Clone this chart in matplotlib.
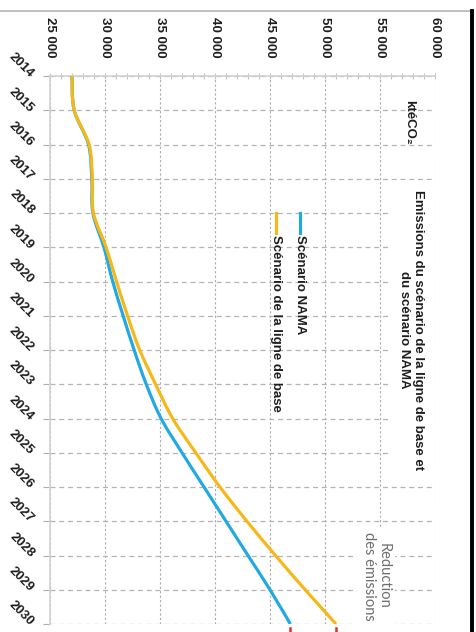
import matplotlib
matplotlib.use("Agg")
import matplotlib.pyplot as plt
from matplotlib.lines import Line2D
from matplotlib.patches import PathPatch
from matplotlib.path import Path
from matplotlib.ticker import MultipleLocator

# Emissions (ktCO2e) per year for the two scenarios
years = list(range(2014, 2031))
nama = [27000, 27200, 28500, 28800, 28900, 29900, 30700, 31650, 32650,
        33750, 35100, 37000, 39000, 41000, 43000, 45000, 46850]
baseline = [27000, 27200, 28550, 28850, 28950, 30100, 31050, 32050, 33150,
            34600, 36150, 38250, 40450, 42900, 45500, 48200, 51000]

value_ticks = [25000, 30000, 35000, 40000, 45000, 50000, 55000, 60000]
value_labels = ["25 000", "30 000", "35 000", "40 000", "45 000",
                "50 000", "55 000", "60 000"]
year_labels = [str(y) for y in years]

title = "Emissions du scénario de la ligne de base et\ndu scénario NAMA"
unit = "ktéCO₂"
series_names = ["Scénario NAMA", "Scénario de la ligne de base"]
note = "Reduction\ndes émissions"

BLUE = "#22a9e0"
YELLOW = "#f6b819"
TEXT = "#1e1e1e"
FONT = ["Liberation Sans", "DejaVu Sans"]

plt.rcParams["font.family"] = FONT

W, H = 477, 632
fig = plt.figure(figsize=(W / 100, H / 100), dpi=100)

# plot area in pixels: x 50..435, y 76..624 (from top)
L, R, T, B = 50, 435, 76, 624
ax = fig.add_axes([L / W, (H - B) / H, (R - L) / W, (B - T) / H])


def pos(px, py):
    """Pixel position inside the figure -> axes fraction."""
    return (px - L) / (R - L), (B - py) / (B - T)


def smooth_path(xs, ys):
    """Smoothed curve through every point (Catmull-Rom as cubic Beziers)."""
    pts = list(zip(xs, ys))
    n = len(pts)
    verts = [pts[0]]
    codes = [Path.MOVETO]
    for i in range(n - 1):
        p0 = pts[max(i - 1, 0)]
        p1 = pts[i]
        p2 = pts[i + 1]
        p3 = pts[min(i + 2, n - 1)]
        c1 = (p1[0] + (p2[0] - p0[0]) / 6, p1[1] + (p2[1] - p0[1]) / 6)
        c2 = (p2[0] - (p3[0] - p1[0]) / 6, p2[1] - (p3[1] - p1[1]) / 6)
        verts += [c1, c2, p2]
        codes += [Path.CURVE4] * 3
    return Path(verts, codes)


ax.set_xlim(value_ticks[0], value_ticks[-1])
ax.set_ylim(years[-1], years[0])

# value axis along the top, labels read downward
ax.xaxis.tick_top()
ax.set_xticks(value_ticks)
ax.set_xticklabels(value_labels, rotation=-90, fontsize=9.5,
                   fontweight="bold", color=TEXT)
ax.xaxis.set_minor_locator(MultipleLocator(1000))
ax.tick_params(axis="x", which="both", direction="inout", length=5,
               color="#c4c4c4", width=0.8, pad=11)

# year axis on the left, diagonal labels
ax.set_yticks(years)
ax.set_yticklabels(year_labels, fontsize=9.5, fontweight="bold", color=TEXT)
for lbl in ax.get_yticklabels():
    lbl.set_rotation(-45)
    lbl.set_ha("right")
    lbl.set_va("center")
    lbl.set_rotation_mode("anchor")
ax.tick_params(axis="y", which="major", direction="out", length=5,
               color="#b0b0b0", width=0.8, pad=8)

for side in ("right", "bottom"):
    ax.spines[side].set_visible(False)
for side in ("top", "left"):
    ax.spines[side].set_color("#d2d2d2")
    ax.spines[side].set_linewidth(1.2)

ax.grid(axis="y", which="major", color="#b4b4b4", linestyle=(0, (4, 3)),
        linewidth=0.9, zorder=0)
ax.grid(axis="x", which="major", color="#acacac", linestyle=(0, (2, 2)),
        linewidth=0.8, zorder=0)
ax.set_axisbelow(True)

for values, color, z in ((nama, BLUE, 4), (baseline, YELLOW, 5)):
    ax.add_patch(PathPatch(smooth_path(values, years), fill=False,
                           edgecolor=color, lw=2.3, joinstyle="round",
                           capstyle="butt", zorder=z))

# red marks below the 2030 end points
for v in (nama[-1], baseline[-1]):
    ax.plot([v, v], [years[-1] + 0.12, years[-1] + 0.5], color="#e2302d",
            lw=1.8, clip_on=False, zorder=6)

# title and unit
tx, ty = pos(411, 330)
ax.text(tx, ty, title, transform=ax.transAxes, rotation=-90, ha="center",
        va="center", multialignment="center", fontsize=9.5,
        fontweight="bold", color=TEXT, zorder=7,
        bbox=dict(boxstyle="square,pad=0.75", fc="white", ec="none"))
ux, uy = pos(409, 122)
ax.text(ux, uy, unit, transform=ax.transAxes, rotation=-90, ha="center",
        va="center", fontsize=9.5, fontweight="bold", color=TEXT, zorder=7)

# legend
for name, color, px in ((series_names[0], BLUE, 300),
                        (series_names[1], YELLOW, 276)):
    x0, y0 = pos(px, 213)
    _, y1 = pos(px, 233)
    ax.add_line(Line2D([x0, x0], [y0, y1], transform=ax.transAxes,
                       color=color, lw=2.3, zorder=7))
    _, yt = pos(px, 235)
    ax.text(x0, yt, name, transform=ax.transAxes, rotation=-90,
            ha="center", va="top", fontsize=9.5, fontweight="bold",
            color=TEXT, zorder=7)

# emission reduction note
nx, ny = pos(376, 576)
ax.text(nx, ny, note, transform=ax.transAxes, rotation=-90, ha="center",
        va="center", multialignment="center", fontsize=10.5,
        family=["Lato", "DejaVu Sans"], color="#6e6e6e", zorder=7,
        linespacing=1.05,
        bbox=dict(boxstyle="square,pad=0.35", fc="white", ec="none"))

# outer frame pieces
fig.add_artist(Line2D([0, 472 / W], [1 - 11 / H, 1 - 11 / H],
                      transform=fig.transFigure, color="#b5b5b5", lw=1.2))
fig.add_artist(Line2D([472 / W, 472 / W], [0, 1 - 11 / H],
                      transform=fig.transFigure, color="black", lw=2.8))

fig.savefig("out.png", dpi=100, facecolor="white")
